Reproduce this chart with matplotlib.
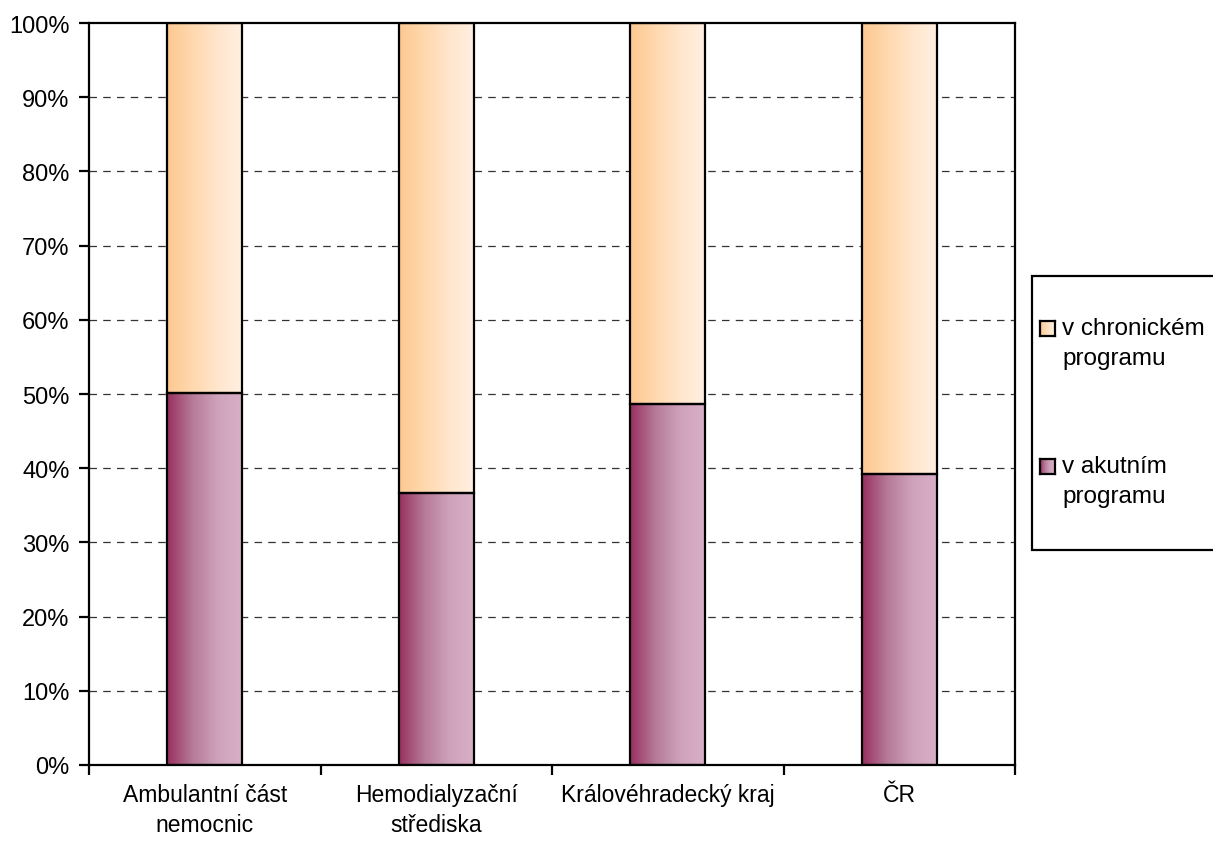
import numpy as np
import matplotlib.pyplot as plt
from matplotlib.colors import LinearSegmentedColormap
from matplotlib.patches import Rectangle
from matplotlib.ticker import FixedLocator, PercentFormatter

plt.rcParams['font.family'] = ['Liberation Sans', 'DejaVu Sans']

# data
categories = ['Ambulantní část\nnemocnic', 'Hemodialyzační\nstřediska',
              'Královéhradecký kraj', 'ČR']
akutni = [50.1, 36.7, 48.6, 39.2]
chronicke = [100 - v for v in akutni]
series_labels = ['v chronickém\nprogramu', 'v akutním\nprogramu']

purple = LinearSegmentedColormap.from_list('purple', ['#98305f', '#b57a98', '#cfa2bb', '#d9b0c8'])
orange = LinearSegmentedColormap.from_list('orange', ['#fdc891', '#ffd8ae', '#ffe6cd', '#fff0e2'])

W, H = 1213, 845
fig = plt.figure(figsize=(W / 100, H / 100), dpi=100)
ax = fig.add_axes([89 / W, 1 - 766 / H, (1015 - 89) / W, (766 - 24) / H])

x = np.arange(len(categories))
w = 0.325
b1 = ax.bar(x, akutni, w, facecolor='none', edgecolor='black', linewidth=1.6, zorder=3)
b2 = ax.bar(x, chronicke, w, bottom=akutni, facecolor='none', edgecolor='black',
            linewidth=1.6, zorder=3)

grad = np.linspace(0, 1, 256).reshape(1, -1)
for bars, cmap in ((b1, purple), (b2, orange)):
    for p in bars:
        x0, y0 = p.get_x(), p.get_y()
        ax.imshow(grad, cmap=cmap, aspect='auto', zorder=2,
                  extent=[x0, x0 + p.get_width(), y0, y0 + p.get_height()])

ax.set_xlim(-0.5, len(categories) - 0.5)
ax.set_ylim(0, 100)

ax.yaxis.set_major_locator(FixedLocator(range(0, 101, 10)))
ax.yaxis.set_major_formatter(PercentFormatter(decimals=0))
ax.tick_params(axis='y', length=7, width=1.6, pad=7, labelsize=17)
for v in range(10, 100, 10):
    ax.axhline(v, color='#333333', linewidth=0.9, dashes=(6, 5), zorder=1)

ax.set_xticks(np.arange(-0.5, len(categories), 1))
ax.set_xticklabels([])
ax.tick_params(axis='x', which='major', length=7, width=1.6)
ax.set_xticks(x, minor=True)
ax.set_xticklabels(categories, minor=True, fontsize=16.5, linespacing=1.4)
ax.tick_params(axis='x', which='minor', length=0, pad=13)

for s in ax.spines.values():
    s.set_linewidth(1.6)
    s.set_zorder(4)

# legend drawn by hand in figure pixels
def fx(px):
    return px / W

def fy(py):
    return 1 - py / H

fig.patches.append(Rectangle((fx(1032), fy(551)), fx(1230) - fx(1032), fy(277) - fy(551),
                             transform=fig.transFigure, facecolor='white',
                             edgecolor='black', linewidth=1.6, zorder=1))
for label, cmap, top in ((series_labels[0], orange, 322), (series_labels[1], purple, 460)):
    hax = fig.add_axes([fx(1040), fy(top + 15), fx(15), 15 / H])
    hax.set_zorder(5)
    hax.imshow(grad, cmap=cmap, aspect='auto')
    hax.set_xticks([])
    hax.set_yticks([])
    for s in hax.spines.values():
        s.set_linewidth(1.6)
    fig.text(fx(1062), fy(top - 4), label, fontsize=17.5, va='top', ha='left',
             linespacing=1.45, zorder=6)

fig.savefig('out.png', dpi=100)
